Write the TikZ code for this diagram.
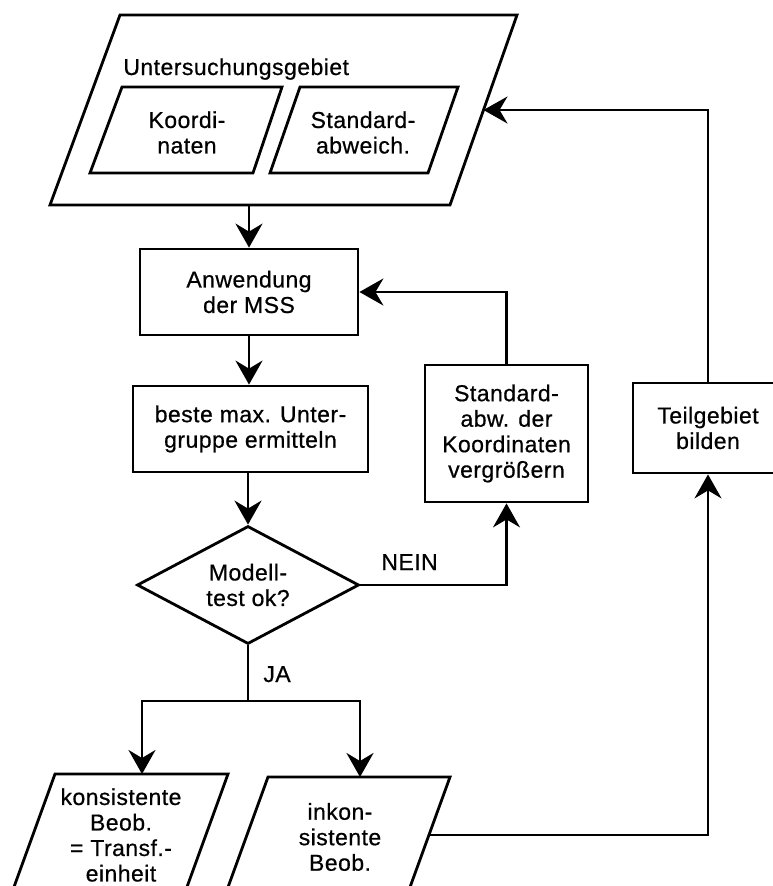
\documentclass[tikz,border=0pt]{standalone}
\usepackage{fontspec}
\setmainfont[LetterSpace=2,FakeBold=0.6]{Liberation Sans}
\usetikzlibrary{arrows.meta,shapes.geometric}
\begin{document}
\begin{tikzpicture}[x=1pt,y=-1pt,line width=2.8pt,line join=miter,
  every node/.style={font=\fontsize{23}{25.5}\selectfont,align=center,inner sep=0pt},
  box/.style={draw,rectangle},
  txt/.style={},
  arr/.style={-{Stealth[length=24pt,width=27pt,inset=8pt]}}]
\useasboundingbox (0,0) rectangle (773,886);
\clip (0,0) rectangle (773,886);

% outer input parallelogram
\draw (120,15) -- (517,15) -- (450,205) -- (50,205) -- cycle;
\node[anchor=base west] (ug) at (122,75) {Untersuchungsgebiet};
\draw (122,87) -- (282,87) -- (253,173) -- (90,173) -- cycle;
\node[txt] (koord) at (187,132.5) {Koordi-\\naten};
\draw (300,87) -- (458,87) -- (428,173) -- (270,173) -- cycle;
\node[txt] (stdab) at (363,132.5) {Standard-\\abweich.};
\coordinate (outB) at (249,205);
\coordinate (outR) at (483.5,110);

% process boxes
\node[box,minimum width=218pt,minimum height=86pt] (anw) at (249,292) {Anwendung\\der MSS};
\node[box,minimum width=235pt,minimum height=86pt] (best) at (250.5,429) {beste max. Unter-\\gruppe ermitteln};
\node[box,minimum width=163pt,minimum height=137pt] (stdv) at (506.5,433.5) {Standard-\\abw. der\\Koordinaten\\vergrößern};
\node[box,minimum width=150pt,minimum height=90pt] (teil) at (708,428) {Teilgebiet\\bilden};
\node[draw,diamond,aspect=1.88,minimum width=222pt,minimum height=118pt] (test) at (248,585) {Modell-\\test ok?};

% output parallelograms
\draw (55,774) -- (228,774) -- (175,920) -- (2,920) -- cycle;
\node[txt] (kons) at (121,835) {konsistente\\Beob.\\= Transf.-\\einheit};
\draw (268,777) -- (450,777) -- (397,923) -- (215,923) -- cycle;
\node[txt] (inko) at (340,837) {inkon-\\sistente\\Beob.};
\coordinate (konsT) at (142,774);
\coordinate (inkoT) at (360,777);
\coordinate (inkoR) at (429,835);
\coordinate (split) at (248,701);

% labels
\node[anchor=base west] (nein) at (380,570) {NEIN};
\node[anchor=base west] (ja) at (262,682) {JA};

% connectors
\draw[arr] (outB) -- (anw.north);
\draw[arr] (anw.south) -- (best.north -| anw.south);
\draw[arr] (best.south -| test.north) -- (test.north);
\draw[arr] (test.east) -| (stdv.south);
\draw[arr] (stdv.north) |- (anw.east);
\draw (test.south) -- (split);
\draw[arr] (split) -| (konsT);
\draw[arr] (split) -| (inkoT);
\draw[arr] (inkoR) -| (teil.south);
\draw[arr] (teil.north) |- (outR);
\end{tikzpicture}
\end{document}
